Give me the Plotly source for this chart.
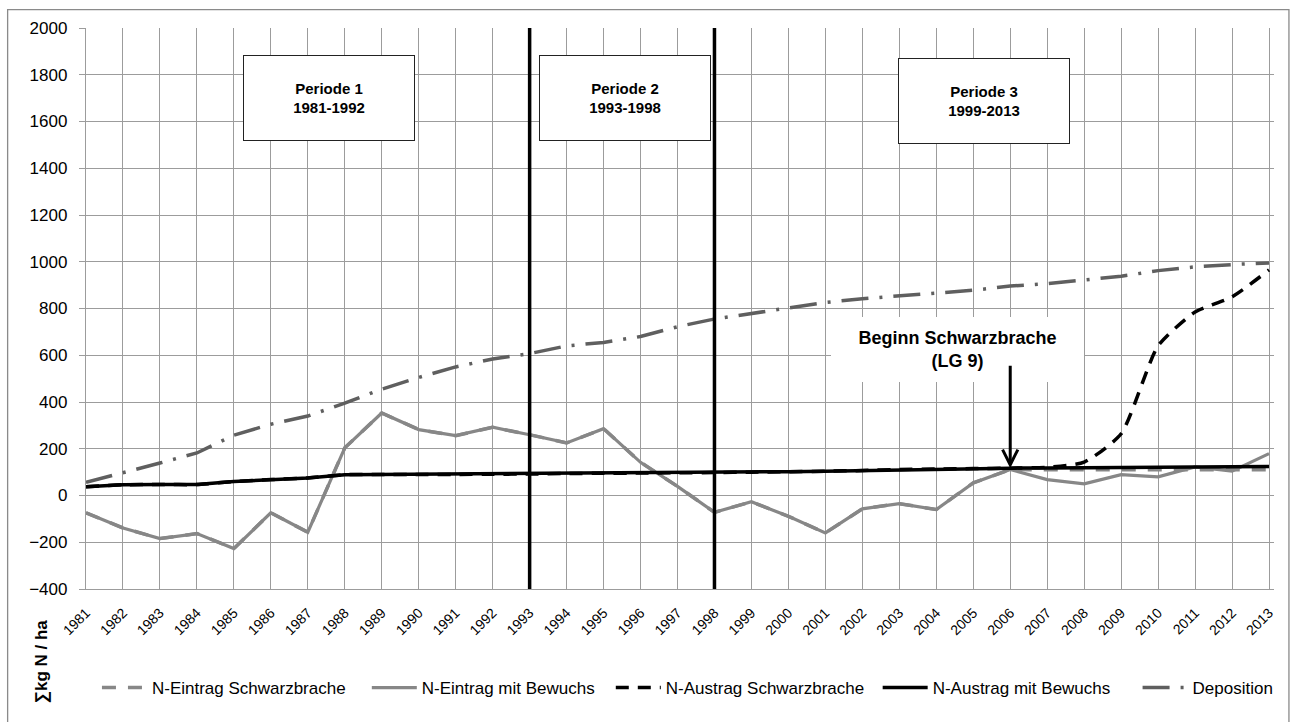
import plotly.graph_objects as go

# Jahre
years = list(range(1981, 2014))
year_labels = [str(y) for y in years]

# Summenwerte in kg N / ha
n_eintrag_schwarzbrache = [-74, -139, -184, -163, -227, -74, -157, 204, 353, 282, 256,
                           292, 260, 225, 286, 142, 39, -72, -27, -89, -160, -57, -35,
                           -60, 54, 111, 110, 110, 110, 110, 110, 110, 110]
n_eintrag_bewuchs = [-74, -139, -184, -163, -227, -74, -157, 204, 353, 282, 256,
                     292, 260, 225, 286, 142, 39, -72, -27, -89, -160, -57, -35,
                     -60, 54, 111, 68, 50, 89, 80, 122, 104, 179]
n_austrag_schwarzbrache = [37, 46, 47, 47, 60, 68, 75, 89, 90, 90, 90, 91, 92, 94,
                           95, 96, 97, 98, 100, 102, 104, 107, 111, 113, 115, 117,
                           121, 143, 264, 640, 785, 850, 965]
n_austrag_bewuchs = [37, 46, 47, 47, 60, 68, 75, 89, 90, 90, 90, 91, 92, 94,
                     95, 96, 97, 98, 100, 102, 104, 107, 111, 113, 115, 117,
                     118, 119, 120, 121, 122, 123, 124]
deposition = [56, 96, 139, 182, 258, 305, 340, 395, 455, 505, 550, 584, 607, 640,
              655, 680, 722, 755, 778, 802, 826, 842, 855, 866, 878, 896, 906,
              922, 938, 962, 978, 988, 995]

period_bounds = [1993, 1998]
period_labels = ["Periode 1<br>1981-1992", "Periode 2<br>1993-1998", "Periode 3<br>1999-2013"]
start_year = 2006

FONT = "Liberation Sans, Arial, sans-serif"
GRID = "#9c9c9c"
GRAY = "#878787"
DARK = "#5f5f5f"

W, H = 1291, 722
L, R, T, B = 86, 12, 28, 133
pw, ph = W - L - R, H - T - B
x_min, x_max = 1981, 2013.135
y_min, y_max = -400, 2000


def px_to_x(px):
    return x_min + (px - L) / pw * (x_max - x_min)


def py_to_y(py):
    return y_max - (py - T) / ph * (y_max - y_min)


def px_to_paper(px):
    return (px - L) / pw


def py_to_paper(py):
    return (H - B - py) / ph


series = [
    ("N-Eintrag Schwarzbrache", n_eintrag_schwarzbrache, dict(color=GRAY, width=3.5, dash="14px,12px"), "linear"),
    ("N-Eintrag mit Bewuchs", n_eintrag_bewuchs, dict(color=GRAY, width=3.2), "linear"),
    ("N-Austrag Schwarzbrache", n_austrag_schwarzbrache, dict(color="#000000", width=3.5, dash="13px,9px"), "spline"),
    ("N-Austrag mit Bewuchs", n_austrag_bewuchs, dict(color="#000000", width=3.5), "linear"),
    ("Deposition", deposition, dict(color=DARK, width=3.5, dash="27px,11px,3px,11px"), "linear"),
]

legend_text_px = [152, 423, 668, 936, 1197]

fig = go.Figure()
layout_legends = {}
for i, (name, vals, line, shape) in enumerate(series):
    key = "legend" if i == 0 else f"legend{i + 1}"
    line = dict(line)
    if shape == "spline":
        line["shape"] = "spline"
        line["smoothing"] = 0.6
    fig.add_trace(go.Scatter(x=years, y=vals, mode="lines", name=name, line=line,
                             legend=key, showlegend=True, hoverinfo="skip"))
    layout_legends[key] = dict(
        x=px_to_paper(legend_text_px[i] - 55), xanchor="left",
        y=py_to_paper(688), yanchor="middle",
        orientation="h", itemwidth=45,
        bgcolor="rgba(0,0,0,0)", borderwidth=0,
        font=dict(family=FONT, size=17, color="#000000"),
    )

shapes = []
# Periodengrenzen
for yr, lo, hi in zip(period_bounds, [-417, -400], [2000, 2008]):
    shapes.append(dict(type="line", xref="x", yref="y", x0=yr, x1=yr, y0=lo, y1=hi,
                       line=dict(color="#000000", width=3.5), layer="above"))
# Diagrammrahmen
shapes.append(dict(type="rect", xref="paper", yref="paper",
                   x0=px_to_paper(7.3), x1=px_to_paper(1294),
                   y0=py_to_paper(726), y1=py_to_paper(9.7),
                   line=dict(color="#8a8a8a", width=1.3), fillcolor="rgba(0,0,0,0)",
                   layer="below"))

annotations = []
# Periodenkästen
box_centers = [(330, 98), (627, 98), (987.5, 101)]
for (cx, cy), txt in zip(box_centers, period_labels):
    annotations.append(dict(
        x=px_to_x(cx), y=py_to_y(cy), xref="x", yref="y",
        text="<b>" + txt.replace("<br>", "</b><br><b>") + "</b>",
        showarrow=False, width=170, height=84, align="center", valign="middle",
        bgcolor="#ffffff", bordercolor="#222222", borderwidth=1, borderpad=0,
        font=dict(family=FONT, size=15, color="#000000"),
    ))

# Beginn Schwarzbrache
annotations.append(dict(
    x=px_to_x(961.5), y=py_to_y(349.5), xref="x", yref="y",
    text="<b>Beginn Schwarzbrache</b><br><b>(LG 9)</b>",
    showarrow=False, width=253, height=65, align="center", valign="middle",
    bgcolor="#ffffff", borderwidth=0, borderpad=0,
    font=dict(family=FONT, size=18, color="#000000"),
))
idx = years.index(start_year)
annotations.append(dict(
    x=start_year, y=n_austrag_bewuchs[idx], xref="x", yref="y", text="",
    showarrow=True, arrowhead=5, arrowsize=1, arrowwidth=3, arrowcolor="#000000",
    ax=0, ay=-104, standoff=0,
))

# Achsentitel
annotations.append(dict(
    x=px_to_paper(41), y=py_to_paper(661), xref="paper", yref="paper",
    text="<b>∑kg N / ha</b>", textangle=-90, showarrow=False,
    xanchor="center", yanchor="middle",
    font=dict(family=FONT, size=17, color="#000000"),
))

fig.update_layout(
    width=W, height=H,
    margin=dict(l=L, r=R, t=T, b=B, pad=0),
    paper_bgcolor="#ffffff", plot_bgcolor="#ffffff",
    font=dict(family=FONT, color="#000000"),
    showlegend=True,
    shapes=shapes, annotations=annotations,
    **layout_legends,
)
fig.update_xaxes(
    range=[x_min, x_max], tickmode="array", tickvals=years, ticktext=year_labels,
    tickangle=-45, tickfont=dict(family=FONT, size=14, color="#000000"),
    ticklabelstandoff=9,
    showgrid=True, gridcolor=GRID, gridwidth=1.3, zeroline=False,
    showline=True, linecolor=GRID, linewidth=1.3, ticks="",
)
fig.update_yaxes(
    range=[y_min, y_max], tickmode="linear", tick0=-400, dtick=200,
    tickfont=dict(family=FONT, size=17, color="#000000"),
    ticklabelstandoff=8,
    showgrid=True, gridcolor=GRID, gridwidth=1.3, zeroline=False,
    showline=True, linecolor=GRID, linewidth=1.3,
    ticks="outside", ticklen=6, tickcolor=GRID, tickwidth=1.3,
)

fig.write_html("out.html")
